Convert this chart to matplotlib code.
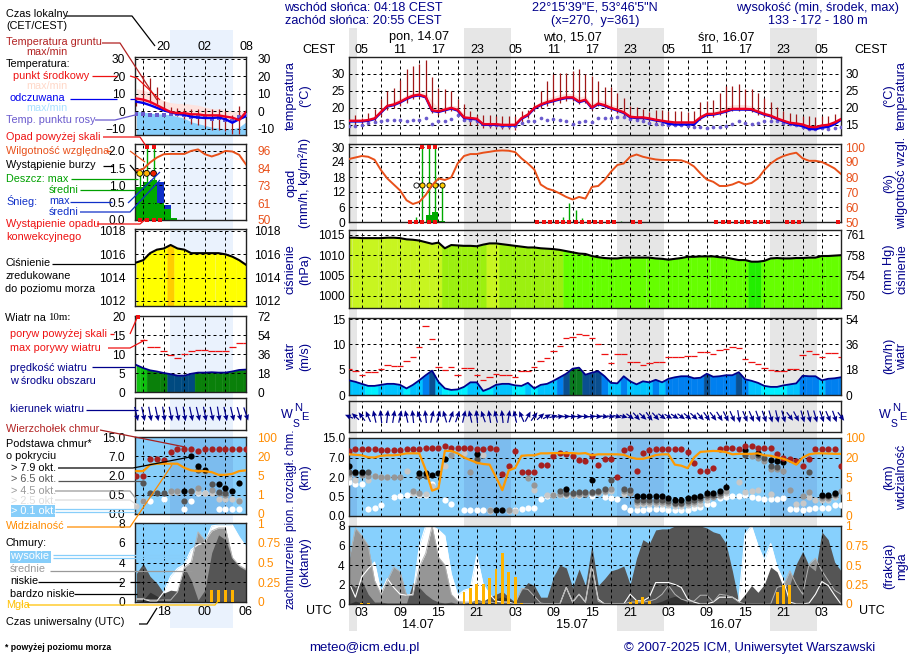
import numpy as np
import matplotlib
matplotlib.use('Agg')
import matplotlib.pyplot as plt

plt.rcParams['font.family'] = ['Liberation Sans', 'DejaVu Sans']
W, H = 910, 660
navy = '#00008b'
orange = '#ff8c00'
nan = np.nan

# hourly series, main meteogram (hours since 14.07 00 UTC)
hours = np.arange(1, 79)
temp_mid = [16.2,16.2,16.2,16.4,16.9,18.8,20.6,21.0,21.8,22.8,
            23.6,23.9,23.3,19.3,19.0,19.5,20.0,19.4,17.2,17.0,
            16.8,15.2,15.2,15.2,15.0,15.0,15.0,17.0,18.0,20.0,
            21.0,21.7,22.2,22.7,23.1,23.1,21.9,22.4,20.1,21.3,
            20.8,20.0,19.4,18.7,17.4,17.2,17.2,16.9,16.5,16.2,
            15.9,15.7,15.7,15.7,15.7,17.2,18.2,18.2,18.6,19.1,
            19.7,19.7,19.7,19.6,18.9,18.2,17.7,16.9,16.2,15.6,
            15.4,15.1,14.4,14.3,14.8,15.0,15.7,16.7]
temp_top = [16.6,16.6,16.7,17,17.6,18.8,20.8,22,22.8,23.8,
            24.5,24.8,24.5,22,20,20.3,20.8,20.6,18.2,17.6,
            17.4,16,15.8,15.8,15.6,15.6,15.6,17.6,18.8,20.6,
            21.8,22.8,23.4,24,24.2,24.2,23.2,23.6,21.2,22.4,
            22,21,20.6,19.8,18.2,17.8,17.8,17.6,17.2,16.8,
            16.4,16.2,16.2,16.2,16.2,17.8,18.8,19,19.8,20.4,
            20.9,21,21,20.6,19.8,18.8,18.3,17.6,16.8,16.2,
            15.9,15.7,15,14.9,15.4,15.6,16.3,17.3]
temp_felt = [16,16,16,16.2,16.7,18.6,20.4,20.8,21.6,22.6,
             23.4,23.7,23.1,19.1,18.8,19.3,19.8,19.2,17,16.8,
             16.6,15,15,15,14.8,14.8,14.8,16.8,17.8,19.8,
             20.8,21.5,22,22.5,22.9,22.9,21.7,22.2,19.9,21.1,
             20.6,19.8,19.2,18.5,17.2,17,17,16.7,16.3,16,
             15.3,15.1,15.1,15.1,15.1,16.9,17.9,18,18.4,18.9,
             19.5,19.5,19.5,19.4,18.7,18,17.5,16.7,16,15.3,
             15,14.6,13.8,13.7,14.2,14.4,15.2,16.5]
ground_max = [16.8,17.8,17.0,18.4,19.8,22.5,25,26,28.3,31.5,
              32.3,33,34,29,26,25.5,25,22.5,21,19,
              18,18,18,17.7,17.5,17.7,17.5,19,19.3,21,
              25,28,30,30.3,30.3,31,31.4,30,29.3,27.8,
              26.2,26.2,24.3,23,20.5,20.2,19.8,18.7,19.3,19.3,
              19.2,19,19,18.7,19.2,21.7,22,22.3,24.3,26.5,
              26.5,27,25.7,25.5,24.3,23,21.7,20.2,19,18.5,
              18.3,17.5,17.5,17.3,17.5,17.5,18.3,18.5]
ground_min = [14.5,14.8,15,15.5,16,17.5,19.5,20,20.5,21.5,
              22.5,23,22.5,18.5,18,18.5,19,18.5,16.5,15,
              15,14,14,14,13.8,13.8,13.5,15.5,17,19,
              20,20.5,21,21.5,22,22,21,21.5,19.5,20.5,
              20,19,18.5,17.5,16.5,16.5,16.3,16,15.5,15.3,
              15,14.8,14.7,14.7,14.8,16.3,17.3,17.4,17.8,18.3,
              19,19,19,18.8,18,17.3,16.8,16,15.5,15,
              14.8,14.2,13.6,13.4,14,14.2,15,16]
dew = [14.8,14.8,15,15.5,15.8,16.1,16.5,16.5,16.4,16.2,
       16.4,16.5,16.9,15.2,16.2,16.2,16.8,17.8,16.5,16.3,
       16,15.2,15,15,14.8,14.8,14.8,15.5,16,16,
       17,16.5,16.8,16.5,16.1,15.2,15.7,16,15.8,17,
       17,17,17.2,17.3,16.6,16.3,16.2,15.6,15.3,15.3,
       15,14.9,14.9,14.8,14.5,14.3,14.2,14.3,14.3,14.8,
       15.2,16,15.4,15.3,15.4,16,16,16,15.5,15.2,
       15,14.5,13.8,13.7,14.1,13.9,14,14.3]
rh = [92,93,94,93.5,91.5,84.6,79,75,71,64.5,
      62,63.4,68,74.5,79,78,79.7,89,94,95.3,
      95.3,96.2,96.8,97.5,97.7,97.5,96.6,92.4,89,85,
      75,72.3,71,69,66.7,65,66.7,65.6,73.4,74,
      78,83.5,88,89,93.5,95,93.5,92.5,91.7,91.3,
      91.3,91.3,91.1,89.7,87,82.4,78.3,76.8,74,74,
      75,76.8,75,76,79,84.6,89,92,94,95.3,
      96.2,92.4,90.8,90.8,90,88,85.7,82]
rain_hours = [13, 14, 15]
rain_mean = [3, 3.9, 0.5]
rain_max_hours = [11.5, 12.5, 13.5, 14.5, 15.5, 34.5, 35.5, 36.5, 37.5, 43.5]
rain_max = [2, 30, 30, 30, 15, 2, 7.5, 5, 1.7, 0.6]
over_scale = [12.5, 13.5, 14.5]
storm_open = [11.5]
storm_hours = [12.5, 13.5, 14.5, 15.5]
conv_hours = [10.5,11.5,12.5,13.5,14.5,
              30.5,31.5,32.5,33.5,34.5,35.5,36.5,37.5,38.5,39.5,40.5,41.5,42.5,
              45.5,46.5,58.5,59.5,60.5,61.5,62.5,63.5,64.5,65.5,66.5,
              69.5,70.5,71.5,77.5]
pressure = [1014.3,1014.3,1014.2,1014.2,1014.2,1014.2,1014.3,1014.3,1014.2,1013.9,
            1013.8,1013.6,1013.2,1012.8,1013.1,1011.7,1012.5,1012.4,1012.3,1012.3,
            1012.2,1012.6,1012.9,1012.9,1012.7,1012.5,1012.3,1012.1,1011.9,1011.9,
            1011.7,1011.6,1011.5,1011.3,1011,1010.7,1010.4,1010.3,1009.8,1009.5,
            1009.3,1009.2,1009.2,1009.4,1009.4,1009.4,1009.4,1009.4,1009.2,1009.1,
            1008.9,1009.1,1009.3,1009.6,1009.6,1009.7,1009.7,1009.7,1009.5,1009.4,
            1009.1,1008.8,1008.8,1008.4,1008.4,1008.6,1009.2,1009.3,1009.2,1009.2,
            1009.3,1009.3,1009.4,1009.4,1009.8,1009.8,1009.9,1010]
wind = [2.9,2.6,2.2,1.8,1.8,2,2.2,2.2,2,1.3,
        2,2.9,3.9,4.8,2.6,1.3,1,1.1,1.6,2.5,
        2.5,.8,1.3,2,2.2,2.2,1.9,1.8,2.4,1.3,
        2,2.2,2.8,3.5,4.2,5.2,5.4,4,4.4,4.7,
        3.7,2.4,2.3,3.7,2.7,2.1,2.7,2.5,3,2.5,
        3.2,3.5,3.7,3.7,3.3,3.4,4.2,3.6,3.7,3.9,
        3.9,4.5,3.1,2.8,2.4,1.8,1.6,1.6,1.9,2.1,
        2.3,3.8,3.7,3.7,2.9,3.2,3.3,3.5]
gust = [5.2,4.8,3.9,4.6,4.6,5.2,6,5.8,5.8,6.8,
        7.6,9.5,13.7,11.1,5.6,5,5.6,4,5.4,5.4,
        4,2.9,3.5,4.2,3.9,3.9,3.5,4.8,4.8,5.6,
        6.8,7.4,8.6,9.7,11.3,11.5,12.1,11.9,11.3,10.1,
        8,6.4,8,8,6.6,6.6,6,6.4,6.6,6.6,
        7.6,7.6,7.6,7.7,7.7,8.4,8.4,8,8.8,9,
        9.5,9.2,7.2,6.6,6.2,5.4,5,4.8,4.8,5.2,
        5.2,7.8,8.6,8,7.6,8.2,8.2,7.6]
wind_dir = [285,300,310,325,340,350,10,15,20,340,
            350,330,350,20,25,335,30,30,20,340,
            350,330,345,340,350,15,340,325,40,50,
            60,70,80,85,88,90,90,92,88,92,
            95,95,100,100,115,125,120,130,125,115,
            110,112,115,118,120,125,130,130,135,140,
            145,165,145,145,150,150,155,160,155,130,
            140,155,158,155,150,145,150,130]
vis = [33,31,29,21,20,27,29,29,32,37,
       37,37,10.5,2.2,2.7,47,47,37,20,18,
       16,15,14.5,5,2.3,10,12,27,29,29,
       37,37,38,38,38,38,36,38,29,33,
       33,33,33,31,21,19,19,21,30,33,
       33,14.5,13.7,11.8,20,43,45,47,46,42,
       33,35,35,35,37,29,27,20,19,17,
       14.5,20,33,37,37,36,35,35]
cloud_top = [9.7,10.3,10.3,10.3,10.3,9.9,9.9,9.9,9.9,10.3,
             10.3,10.6,11,11,11,11.7,11,11,11,11,
             10.6,10.3,11,10.6,2.7,4.7,9.7,3.3,3.3,3.3,
             5,5,7.7,8.7,8.3,7.7,6.4,6,7.5,5.2,
             6.5,6.5,2,10,11,3.6,9,10,10.3,10.3,
             10.3,10.3,10.3,9.3,5.6,3.6,3.6,4.3,10.6,11,
             11,10.3,11.7,11.7,11,11,11,8.3,7,6.7,
             6,4.7,6.5,10.6,10.3,10.3,10.3,4.9]
b79_h = [1,2,3,12,13,14,15,16,21,24,25,35,39,46,47,48,49,50,51,52,
         53,54,55,56,57,58,59,60,63,65,67,68,69,75,76,77]
b79_km = [4.7,3.4,3.4,2.9,2.9,2.5,2.9,6.5,8.3,.16,.16,1.1,1.8,.52,.52,.52,.52,.52,.45,.4,
          .4,.45,.5,.55,.75,.75,.92,1.2,10,9,6.3,6,5.8,.6,.6,.8]
b65_h = [1,2,3,4,12,13,21,34,35,36,37,38,39,40,41,42,44,45,46,47,
         48,49,50,51,52,53,54,55,56,57,58,59,63,65,66,67,68,73,75,76,77]
b65_km = [3.2,3.0,3.0,3.4,2.3,2.3,6.7,.95,.8,.75,.87,.87,.87,.95,1.1,1.8,1.1,1,.42,.42,
          .42,.42,.42,.38,.33,.33,.38,.42,.45,.6,.6,.75,8,8,7,4.8,4.6,3.3,.52,.52,.7]
b45_h = [1,3,4,5,6,7,8,9,11,12,17,20,21,23,26,29,30,33,34,35,
         36,37,38,39,40,41,42,44,45,46,47,48,49,50,51,52,53,54,55,56,
         57,58,59,60,64,65,66,67,68,69,70,72,73,75,76,77,78]
b45_km = [2.8,2.4,2.2,2.2,2.1,2.1,2.1,2.1,.95,.8,8,3.4,6,.15,.15,1.9,1.4,.65,.7,.72,
          .7,.72,.72,.75,.85,.95,1.1,.95,.75,.36,.36,.36,.36,.36,.33,.3,.3,.33,.36,.4,
          .5,.5,.6,.9,7.5,7,6,4,4,3.5,1,.55,.85,.45,.45,.6,.95]
b25_h = [1,2,4,5,6,7,10,11,12,13,14,16,17,19,21,22,23,26,27,30,
         32,33,34,35,36,37,38,39,40,41,42,44,46,47,48,49,50,51,52,53,
         54,55,56,57,59,60,62,63,64,65,67,71,72,73,74,75,76,77]
b25_km = [2,1.8,1.75,2.2,2.1,2.1,3.5,.8,.72,.72,1.3,4.7,8,9,6.7,8,.14,.14,.14,1,
          .65,.62,.65,.65,.65,.65,.8,.8,.8,.82,.95,.7,.28,.3,.3,.3,.3,.27,.25,.25,
          .27,.3,.3,.4,.55,.75,1.6,.85,.95,1,.7,.32,.33,.5,.4,.4,.4,.5]
b01_h = [1,2,3,4,5,6,8,9,10,11,12,13,14,16,17,19,20,21,22,23,
         27,28,29,30,31,32,33,35,37,39,41,42,43,44,45,46,47,48,49,50,
         51,52,53,54,55,56,57,58,59,60,61,62,63,64,65,66,67,68,69,70,
         71,72,73,74,75,76,77,78]
b01_km = [1.6,1.5,1.5,.17,.21,.28,.5,.57,.65,.75,.62,.62,1.5,.4,.3,.15,.15,.15,.15,.15,
          .15,.17,.21,.21,.43,.55,.6,.6,.6,.55,.5,.45,.44,.24,.15,.15,.15,.17,.17,.17,
          .15,.15,.15,.15,.2,.24,.3,.3,.45,.5,.52,.55,.6,.5,.45,.43,.43,.44,.45,.17,
          .17,.15,.17,.2,.2,.2,.28,.28]
cl_high = [2.2,.7,2.8,3.6,4.3,1.2,2.6,1.7,1,.9,
           1,5.9,8,8,7.6,7,3.1,.9,1.4,1.6,
           5,2,1,.3,.2,.2,0,0,0,0,
           0,0,0,0,1.7,.2,1,.2,4,.5,
           0,0,0,0,1,.35,.3,.7,2.2,2.2,
           2.2,2,1.7,.5,.2,0,0,.2,.7,.7,
           .7,.3,7.2,8,6,4.5,6.2,3.8,2.4,.2,
           0,0,.1,1,2.3,1.9,.9,0]
cl_mid = [4.5,7.8,7,6,2.4,1,2.4,3.8,3.3,.9,
          .9,3.8,5.2,8,4.8,4,1,.3,.2,.2,
          .2,.2,.2,.1,.1,.1,0,1.6,1.5,.8,
          .1,0,0,0,1.7,.2,1,.2,4,.3,
          0,0,0,0,.2,.2,.2,.3,.5,1,
          1.9,1,.5,.3,.3,.9,.9,.2,1,.9,
          .7,.2,0,0,0,0,0,1.7,1.9,3.4,
          2,1,4.1,4.7,3.4,2.4,1.4,1]
cl_low = [2.2,1.7,2.4,1,.2,.2,.1,.1,.1,.1,
          2.2,1.7,1,.5,.2,.1,.2,0,0,.2,
          .5,.3,.7,1,1.3,.7,.2,1.4,2.2,1.9,
          .7,.7,2.8,4,3.7,1.7,3.6,1.9,6,1.9,
          2.6,3.4,3.6,3.9,2,4.7,6.6,6.2,7.6,7.7,
          7.7,8,8,8,8,8,7.8,7.4,7.2,6.2,
          3.4,.2,1,1.9,1.2,2,3.8,3.3,1.7,2,
          4.1,5.4,3.9,3.4,7.4,6.6,4.3,3.4]
cl_vlow = [0,.3,.1,0,0,0,0,0,0,0,
           0,0,0,0,0,0,0,0,0,0,
           0,0,.1,.5,.8,.5,.1,0,0,0,
           0,0,0,0,0,0,0,0,0,0,
           0,0,0,0,0,0,0,0,.1,.3,
           .6,.8,.6,.1,0,0,0,0,0,0,
           0,0,0,0,0,0,0,0,0,0,
           0,.1,0,0,0,0,0,0]
fog_hours = [3,4,19,20,21,22,23,24,25,26,27,28,45,46,47,48,68,69,70]
fog_frac = [.01,.01,.15,.2,.26,.26,.33,.45,.66,.41,.34,.01,.02,.05,.09,.04,.15,.24,.24]

night_start = [-5.1, 18.92, 42.92, 66.92]
night_end = [2.3, 26.3, 50.3, 74.3]

# small panel on the left, the legend part
lh = np.arange(14, 31)
l_mid = [7.3,6.7,5.4,3.5,1.5,-.4,-1,-1,-1.7,-1.7,-2.3,-2.3,-2.3,-3,-3.6,-5,-.4]
l_felt = [5.5,4.8,3.5,2,.5,-.5,-1.5,-2,-3,-3.5,-3.8,-3.8,-3.5,-4.5,-6.5,-4.5,-2.8]
l_top = [13,12,11,8,6,5,4.5,4.5,4,3.5,2.5,1.5,1.5,1,0,0,0]
l_cold = [0,-.5,-1,-1.5,-1.5,-2,-3,-4,-6,-7,-8,-9,-9.5,-10,-10,-9,-6]
l_gmax = [7,21,19,14,6,2.5,2,1.5,1.5,1.5,1.5,1.5,1.5,0,-2,3,-1]
l_gmin = [3,5,5,4,1,-1.5,-2.5,-4.5,-7,-8,-9,-10.5,-10.5,-11,-13,-13,-10]
l_dew = [-1.3,-1.3,-2.3,-2.3,-2.3,-1.3,-1.3,-2.3,-3.3,-3.3,-3.3,-4.2,-3.7,-5.2,-5.6,-3.3,-2.3]
l_rh = [82.9,84,88.3,91.6,93.8,94,94,94,96,97,93.8,92.3,93.8,96,95.6,93.4,87]
l_rain_h = [14, 15, 16, 17, 18, 19]
l_rain = [.95, 1.1, 1.15, .5, .33, .05]
l_snow_h = [17, 18]
l_snow = [1.1, .43]
l_max_h = [14.5, 15.5, 16.5]
l_max = [1.35, 2.1, 2.1]
l_storm_col = ['#ffe000', '#ffb000', '#ee2000']
l_conv = [14.5, 15.5, 16.5, 17.5]
l_press = [1015.3,1015.5,1016.1,1016.4,1016.5,1016.8,1016.5,1016.4,1016.1,1016.1,1016.1,1016.1,1016.1,1016,1015.8,1015.5,1015.1]
l_wind = [7.1,6.3,5.7,5.4,5,4.7,4.3,4.3,4.8,5.1,5.1,5.2,5.1,5.1,5.4,5.8,5.9]
l_gust = [nan,13.7,11.8,11.8,10.7,9.7,8.9,10,10.7,11.1,11.1,10.9,10.9,10.9,11.8,12.8,13]
l_dir = [158,160,162,160,165,162,160,165,160,158,162,160,165,160,158,155,150]
l_ctop = [2,2,6.4,6.4,6,8.9,10,10,10,9,10,10,10,10,10,10,10]
l79_h = [21,22,23,24,26,27,28,29]
l79_km = [.8,7,4.5,3.5,1.3,1,.8,1.4]
l65_h = [15,16,17,18,21,22,23,25,26,27]
l65_km = [1.4,.6,.6,.6,.35,.8,3.4,1.3,.75,.6]
l45_h = [15,19,20,22,23,24,25,26,27,29]
l45_km = [.35,.8,.8,.8,1,3.2,.9,.6,.5,.35]
l25_h = [14,19,20,23,24,25,26,27,28,29]
l25_km = [.2,.75,.7,.7,.65,.65,.38,.38,.38,.37]
l01_h = [15,16,18,21,22,23,24,26,27,28,29]
l01_km = [.35,.35,.4,.12,.35,.65,.6,.12,.12,.12,.12]
l_vis = [8.4,8.4,13.4,14.2,14.2,14.2,14.2,11,9,8.4,8.4,7.6,5.5,5.5,6.3,8.4,9]
l_high = [.3,.3,.1,.1,1,2.6,3.4,3.8,5.3,5.8,6,7.7,7.8,7.8,7.8,6.6,5.6]
l_midc = [.3,.3,.2,.2,.2,.2,1,3.5,4,7.1,6.2,7.2,7.5,7.5,4.5,3.7,3.3]
l_lowc = [2.9,3.9,2.6,1.9,.9,1.2,1.1,3.5,2.2,.2,1.2,5,6.8,6.3,4.4,3.6,3.2]
l_vlow = [0,.2,1,.6,.1,0,0,0,0,0,0,0,0,0,0,0,0]
l_fog_h = [25, 26, 27, 28]
l_fog = [.15, .15, .15, .15]

km_levels = [0, .5, 2, 7, 15]
vis_levels = [0, 1, 5, 20, 100]
pos_levels = [0, 1, 2, 3, 4]

tick_size = 8.6


def panel(x0, y0, x1, y1):
    ax = fig.add_axes([x0 / W, 1 - y1 / H, (x1 - x0) / W, (y1 - y0) / H])
    ax.patch.set_alpha(0)
    ax.set_axisbelow('line')
    for s in ax.spines.values():
        s.set_color('#222222')
        s.set_linewidth(1.0)
    return ax


def xsetup(ax, left):
    if left:
        ax.set_xlim(13.8, 30)
        ax.set_xticks(np.arange(15, 31, 3))
    else:
        ax.set_xlim(1, 78)
        ax.set_xticks(np.arange(3, 79, 3))
    ax.set_xticklabels([])
    ax.tick_params(length=0, labelsize=tick_size, pad=7 if left else 3)
    ax.tick_params(axis='x', labelsize=9)
    ax.grid(True, color='k', lw=0.72, ls=(0, (3, 3)))


def yright(ax, ticks, labels, color='k', pad=3, scale=None):
    tw = ax.twinx()
    tw.patch.set_alpha(0)
    if scale is not None:
        tw.set_yscale('function', functions=scale)
    tw.set_ylim(ax.get_ylim())
    tw.set_yticks(ticks, labels=labels, color=color)
    tw.tick_params(length=0, labelsize=tick_size, pad=pad)
    for s in tw.spines.values():
        s.set_visible(False)
    return tw


def cells(ax, h, vals, colors, base):
    # one coloured column per hour, the top follows the line
    h = np.asarray(h, dtype=float)
    for i in range(len(h)):
        xs = np.linspace(h[i] - .5, h[i] + .5, 3)
        xs = np.clip(xs, h[0], h[-1])
        ax.fill_between(xs, base, np.interp(xs, h, vals), color=colors[i], lw=0.3, zorder=1)


def press_color(p):
    if p > 1012.75:
        return '#c8f520'
    if p > 1011.05:
        return '#9cf00f'
    if p > 1008.5:
        return '#66ff00'
    return '#22ee00'


def wind_color(v):
    if v >= 6:
        return '#10c010'
    if v >= 5.05:
        return '#0a7a20'
    if v >= 4:
        return '#0a4f90'
    if v >= 3:
        return '#0080f0'
    if v >= 2:
        return '#00c3ff'
    return '#00f0ff'


def km_fw(v):
    return np.interp(v, km_levels, pos_levels)


def km_inv(v):
    return np.interp(v, pos_levels, km_levels)


def vis_fw(v):
    return np.interp(v, vis_levels, pos_levels)


def vis_inv(v):
    return np.interp(v, pos_levels, vis_levels)


def draw_temp(ax, h, top, low, mid, felt, gmax, gmin, dewp, left):
    ax.fill_between(h, low, top, color='#fde3df', lw=0, zorder=1)
    ax.vlines(h, gmin, gmax, color='#a01818', lw=0.9, zorder=2)
    ax.scatter(h, dewp, s=7, marker='s' if left else 'o', color='#6a5acd', lw=0, zorder=3)
    ax.plot(h, felt, color='#0000ee', lw=1.7, zorder=3)
    ax.plot(h, mid, color='#ee0022', lw=1.7, zorder=4)


def draw_cover(ax, h, high, mid, low, vlow):
    ax.set_facecolor('#87d0fd')
    ax.patch.set_alpha(1)
    ax.fill_between(h, 0, high, color='white', lw=0, zorder=1)
    ax.fill_between(h, 0, mid, color='#969696', lw=0, zorder=1.1)
    ax.fill_between(h, 0, low, color='#555555', lw=0, zorder=1.2)
    ax.fill_between(h, 0, vlow, color='#333333', lw=0, zorder=1.3)
    ax.plot(h, high, color='white', lw=0.8, zorder=1.4)
    ax.plot(h, mid, color='#b4b4b4', lw=0.7, zorder=1.4)


def draw_dots(ax, series, tops_h, tops):
    size = 20
    for hs, km, col in series:
        ax.scatter(hs, km, s=size, color=col, lw=0, zorder=3)
    ax.scatter(tops_h, tops, s=size, color='#a52020', lw=0, zorder=3)


def arrows(ax, h, dirs, vscale):
    th = np.radians(dirs)
    ax.quiver(h, np.zeros(len(h)), 1.3 * np.sin(th), vscale * np.cos(th), angles='xy', scale_units='xy', scale=1,
              pivot='mid', color='#00008b', units='dots', width=1.2, headwidth=4.5, headlength=5, headaxislength=4.5,
              zorder=3, clip_on=False)


fig = plt.figure(figsize=(W / 100, H / 100), dpi=100)

# day/night bands behind the panels
bg = fig.add_axes([349 / W, 1 - 631 / H, 492 / W, 603 / H], zorder=-2)
bg.set_xlim(1, 78)
bg.axis('off')
for a, b in zip(night_start, night_end):
    bg.axvspan(a, b, color='#e6e6e6', lw=0)
bgl = fig.add_axes([135 / W, 1 - 628 / H, 111 / W, 598 / H], zorder=-2)
bgl.set_xlim(13.8, 30)
bgl.axis('off')
bgl.axvspan(18.9, 28.1, color='#eaf2fd', lw=0)

# ---- main panels
ax = panel(349, 57, 841, 135)
draw_temp(ax, hours, temp_top, temp_felt, temp_mid, temp_felt, ground_max, ground_min, dew, False)
ax.set_ylim(12, 35)
ax.set_yticks([15, 20, 25, 30])
xsetup(ax, False)
ax.set_xticklabels(['%02d' % ((h + 2) % 24) if h % 6 == 3 else '' for h in np.arange(3, 79, 3)])
ax.tick_params(axis='x', labeltop=True, labelbottom=False, pad=1)
yright(ax, [15, 20, 25, 30], ['15', '20', '25', '30'])

ax = panel(349, 144, 841, 222)
ax.set_ylim(0, 31.2)
ax.set_yticks([0, 6, 12, 18, 24, 30])
xsetup(ax, False)
ax.bar(rain_hours, rain_mean, width=1, align='edge', color='#00aa00', zorder=1)
ax.vlines(rain_max_hours, 0, rain_max, color='#00aa00', lw=1.0, zorder=2)
ax.scatter(over_scale, [30] * len(over_scale), s=9, marker='s', color='#ee1111', lw=0, zorder=4)
ax.scatter(storm_open, [15], s=14, color='white', edgecolor='k', lw=0.6, zorder=4)
ax.scatter(storm_hours, [15] * len(storm_hours), s=14, color='#ffcc00', edgecolor='k', lw=0.6, zorder=4)
ax.scatter(conv_hours, [0] * len(conv_hours), s=8, marker='s', color='#ee1111', lw=0, zorder=4, clip_on=False)
tw = yright(ax, [60, 70, 80, 90, 100, 50], ['60', '70', '80', '90', '100', '50'], color='#e8501a')
tw.set_ylim(50, 102)
tw.plot(hours, rh, color='#e8501a', lw=1.4)

ax = panel(349, 230, 841, 308)
cells(ax, hours, pressure, [press_color(p) for p in pressure], 990)
ax.plot(hours, pressure, color='k', lw=1.5, zorder=3)
ax.set_ylim(997, 1016.2)
ax.set_yticks([1000, 1005, 1010, 1015])
xsetup(ax, False)
yright(ax, [1000, 1005, 1010, 1015], ['750', '754', '758', '761'])

ax = panel(349, 318, 841, 395)
cells(ax, hours, wind, [wind_color(v) for v in wind], 0)
ax.plot(hours, wind, color='#00008b', lw=1.3, zorder=3)
ax.hlines(gust, hours - .5, hours + .5, color='#ee1111', lw=0.9, zorder=3)
ax.set_ylim(0, 15.2)
ax.set_yticks([0, 5, 10, 15])
xsetup(ax, False)
yright(ax, [0, 5, 10, 15], ['0', '18', '36', '54'])

ax = panel(349, 401, 841, 432)
ax.set_ylim(-1, 1)
ax.set_yticks([])
xsetup(ax, False)
arrows(ax, hours, wind_dir, 0.85)

ax = panel(349, 438, 841, 516)
ax.set_facecolor('#87cefa')
ax.patch.set_alpha(1)
ax.set_yscale('function', functions=(km_fw, km_inv))
ax.set_ylim(0, 15)
ax.set_yticks(km_levels, labels=['0.0', '0.5', '2.0', '7.0', '15.0'])
xsetup(ax, False)
for a, b in zip(night_start, night_end):
    ax.axvspan(a, b, color='#7cbcee', lw=0, zorder=0.5)
ax.set_xlim(1, 78)
draw_dots(ax, [(b01_h, b01_km, 'white'), (b25_h, b25_km, '#c8c8c8'), (b45_h, b45_km, '#969696'),
               (b65_h, b65_km, '#555555'), (b79_h, b79_km, 'black')], hours, cloud_top)
tw = yright(ax, vis_levels, ['0', '1', '5', '20', '100'], color=orange, scale=(vis_fw, vis_inv))
tw.set_ylim(0, 100)
tw.plot(hours, vis, color='#ff9900', lw=1.6, zorder=5)

ax = panel(349, 526, 841, 604)
draw_cover(ax, hours, cl_high, cl_mid, cl_low, cl_vlow)
ax.set_ylim(0, 8)
ax.set_yticks([0, 2, 4, 6, 8])
xsetup(ax, False)
ax.set_xticklabels(['%02d' % (h % 24) if h % 6 == 3 else '' for h in np.arange(3, 79, 3)])
ax.tick_params(axis='x', pad=2)
tw = yright(ax, [0, .25, .5, .75, 1], ['0', '0.25', '0.5', '0.75', '1'], color=orange)
tw.set_ylim(0, 1)
tw.bar(fog_hours, fog_frac, width=.45, color='#ffb300', zorder=4)

# ---- small panels, left side
ax = panel(135, 57, 246, 135)
ax.fill_between(lh, -14, l_cold, color='#87cefa', lw=0, zorder=0.6)
draw_temp(ax, lh, l_top, l_felt, l_mid, l_felt, l_gmax, l_gmin, l_dew, True)
ax.set_ylim(-13.5, 31)
ax.set_yticks([-10, 0, 10, 20, 30])
xsetup(ax, True)
ax.set_xticklabels(['', '20', '', '02', '', '08'])
ax.tick_params(axis='x', labeltop=True, labelbottom=False, pad=3)
yright(ax, [-10, 0, 10, 20, 30], ['-10', '0', '10', '20', '30'], pad=8)

ax = panel(135, 144, 246, 220)
ax.set_ylim(0, 2.2)
ax.set_yticks([0, .5, 1, 1.5, 2], labels=['0.0', '0.5', '1.0', '1.5', '2.0'])
xsetup(ax, True)
ax.bar(l_snow_h, l_snow, width=1, align='edge', color='#1030c8', zorder=1)
ax.bar(l_rain_h, l_rain, width=1, align='edge', color='#00aa00', zorder=1.1)
ax.vlines(l_max_h, 0, l_max, color='#00aa00', lw=1.0, zorder=2)
ax.scatter(l_max_h[1:], l_max[1:], s=9, marker='s', color='#ee1111', lw=0, zorder=4)
ax.scatter(l_max_h, [1.35] * 3, s=18, color=l_storm_col, edgecolor='k', lw=0.6, zorder=4)
ax.scatter(l_conv, [0] * 4, s=5, marker='s', color='#ee1111', lw=0, zorder=4, clip_on=False)
tw = yright(ax, [50, 61, 73, 84, 96], ['50', '61', '73', '84', '96'], color='#e8501a', pad=8)
tw.set_ylim(50, 100.6)
tw.plot(lh, l_rh, color='#e8501a', lw=1.4)

ax = panel(135, 229, 246, 306)
cells(ax, lh, l_press, ['#ffcc00' if p > 1016.7 else '#ffff00' for p in l_press], 1010)
ax.plot(lh, l_press, color='k', lw=1.5, zorder=3)
ax.set_ylim(1011.57, 1018.17)
ax.set_yticks([1012, 1014, 1016, 1018])
xsetup(ax, True)
yright(ax, [1012, 1014, 1016, 1018], ['1012', '1014', '1016', '1018'], pad=6)

ax = panel(135, 316, 246, 392)
lcols = ['#10c010' if v >= 6 else '#0a800a' if v >= 4.95 else '#004a80' for v in l_wind]
cells(ax, lh, l_wind, lcols, 0)
ax.plot(lh, l_wind, color='#00008b', lw=1.3, zorder=3)
ax.hlines(l_gust, lh - .5, lh + .5, color='#ee1111', lw=0.9, zorder=3)
ax.scatter([14.3], [19.8], s=8, marker='s', color='#ee1111', lw=0, zorder=4, clip_on=False)
ax.set_ylim(0, 20)
ax.set_yticks([0, 5, 10, 15, 20])
xsetup(ax, True)
yright(ax, [0, 5, 10, 15, 20], ['0', '18', '36', '54', '72'], pad=8)

ax = panel(135, 398, 246, 430)
ax.set_ylim(-1, 1)
ax.set_yticks([])
xsetup(ax, True)
arrows(ax, lh, l_dir, 0.95)

ax = panel(135, 437, 246, 514)
ax.set_facecolor('#87cefa')
ax.patch.set_alpha(1)
ax.set_yscale('function', functions=(km_fw, km_inv))
ax.set_ylim(0, 15)
ax.set_yticks(km_levels, labels=['0.0', '0.5', '2.0', '7.0', '15.0'])
xsetup(ax, True)
ax.axvspan(18.9, 28.1, color='#7cbcee', lw=0, zorder=0.5)
draw_dots(ax, [(l01_h, l01_km, 'white'), (l25_h, l25_km, '#c8c8c8'), (l45_h, l45_km, '#969696'),
               (l65_h, l65_km, '#555555'), (l79_h, l79_km, 'black')], lh, l_ctop)
tw = yright(ax, vis_levels, ['0', '1', '5', '20', '100'], color=orange, pad=8, scale=(vis_fw, vis_inv))
tw.set_ylim(0, 100)
tw.plot(lh, l_vis, color='#ff9900', lw=1.6, zorder=5)

ax = panel(135, 523, 246, 602)
draw_cover(ax, lh, l_high, l_midc, l_lowc, l_vlow)
ax.set_ylim(0, 8)
ax.set_yticks([0, 2, 4, 6, 8])
xsetup(ax, True)
ax.set_xticklabels(['', '18', '', '00', '', '06'])
ax.tick_params(axis='x', pad=3)
tw = yright(ax, [0, .25, .5, .75, 1], ['0', '0.25', '0.5', '0.75', '1'], color=orange, pad=8)
tw.set_ylim(0, 1)
tw.bar(l_fog_h, l_fog, width=.5, color='#ffb300', zorder=4)

# ---- texts and legend leader lines in picture pixels
ov = fig.add_axes([0, 0, 1, 1], zorder=20)
ov.set_xlim(0, W)
ov.set_ylim(H, 0)
ov.axis('off')
ov.patch.set_alpha(0)


def tx(x, y, s, color='k', ha='left', size=7.8, **kw):
    ov.text(x, y, s, color=color, ha=ha, va='center', fontsize=size, **kw)


def vt(x, y, s, color=navy, size=9.2):
    ov.text(x, y, s, color=color, ha='center', va='center', rotation=90, fontsize=size)


def ln(xs, ys, color='k', lw=0.9):
    ov.plot(xs, ys, color=color, lw=lw, solid_capstyle='butt')


size_head = 9.05
tx(363, 8, 'wschód słońca: 04:18 CEST', navy, 'center', size_head)
tx(363, 21, 'zachód słońca: 20:55 CEST', navy, 'center', size_head)
tx(595, 8, '22°15\'39"E, 53°46\'5"N', navy, 'center', size_head)
tx(595, 21, '(x=270,  y=361)', navy, 'center', size_head)
tx(818, 8, 'wysokość (min, środek, max)', navy, 'center', size_head)
tx(818, 21, '133 - 172 - 180 m', navy, 'center', size_head)
for x, s in [(419, 'pon, 14.07'), (572, 'wto, 15.07'), (726, 'śro, 16.07')]:
    tx(x, 37, s, 'k', 'center', 9.2)
for x, s in [(418, '14.07'), (572, '15.07'), (726, '16.07')]:
    tx(x, 625, s, 'k', 'center', 9.2)
tx(319, 50, 'CEST', 'k', 'center', 9)
tx(871, 50, 'CEST', 'k', 'center', 9)
tx(319, 611, 'UTC', 'k', 'center', 9)
tx(872, 611, 'UTC', 'k', 'center', 9)
tx(364, 648, 'meteo@icm.edu.pl', navy, 'center', 9.5)
tx(750, 648, '© 2007-2025 ICM, Uniwersytet Warszawski', navy, 'center', 9.4)
tx(5, 648, '* powyżej poziomu morza', 'k', 'left', 6.2, fontweight='bold')

for y, a, b in [(96, 'temperatura', '(°C)'), (183, 'opad', '(mm/h, kg/m²/h)'), (269, 'ciśnienie', '(hPa)'),
                (356, 'wiatr', '(m/s)')]:
    vt(291, y, a)
    vt(305, y, b)
vt(291, 480, 'pion. rozciągł. chm.', size=8.5)
vt(305, 477, '(km)')
vt(291, 572, 'zachmurzenie', size=8.6)
vt(305, 562, '(oktanty)')
for y, a, b in [(96, 'temperatura', '(°C)'), (183, 'wilgotność wzgl.', '(%)'), (269, 'ciśnienie', '(mm Hg)'),
                (356, 'wiatr', '(km/h)'), (477, 'widzialność', '(km)'), (566, 'mgła', '(frakcja)')]:
    vt(902, y, a)
    vt(889, y, b)
for x0 in [287, 885]:
    tx(x0, 415, 'W', navy, 'center', 9)
    tx(x0 + 11, 408, 'N', navy, 'center', 8)
    tx(x0 + 18, 417, 'E', navy, 'center', 8)
    tx(x0 + 9, 424, 'S', navy, 'center', 7.5)

red = '#ee1111'
brown = '#b22222'
tx(6, 14, 'Czas lokalny')
tx(6, 26, '(CET/CEST)')
ln([66, 132, 155], [16, 16, 46])
tx(6, 42, 'Temperatura gruntu', brown)
tx(47, 52, 'max/min', brown, 'center')
ln([102, 120, 157], [43, 43, 100], brown)
tx(6, 64, 'Temperatura:')
tx(13, 76, 'punkt środkowy', red)
ln([92, 117], [76, 76], red)
ln([130, 137, 160], [76, 78, 100], red)
tx(47, 86, 'max/min', '#ffd8c8', 'center')
tx(10, 98, 'odczuwana', '#0000ee')
ln([70, 117], [99, 99], '#0000ee')
ln([130, 135], [99, 99], '#0000ee')
tx(47, 108, 'max/min', '#a8e0ff', 'center')
tx(6, 120, 'Temp. punktu rosy', '#6a5acd')
ln([95, 115, 135], [120, 120, 115], '#6a5acd')
tx(6, 137, 'Opad powyżej skali', red)
ln([103, 140, 146], [137, 137, 146], red)
tx(6, 151, 'Wilgotność względna', '#e8501a')
ln([106, 111], [151, 151], '#e8501a')
ln([130, 145], [151, 162], '#e8501a')
tx(6, 165, 'Wystąpienie burzy')
ln([103, 113], [166, 166])
ln([130, 137], [165, 173])
tx(6, 179, 'Deszcz: max', '#00a000')
ln([71, 138], [179, 179], '#00a000')
tx(49, 190, 'średni', '#00a000')
ln([80, 135], [190, 190], '#00a000')
tx(6, 201, 'Śnieg:', '#1030c8')
tx(49, 201, 'max', '#1030c8')
ln([70, 112], [202, 202], '#1030c8')
ln([128, 160], [203, 172], '#1030c8')
tx(49, 212, 'średni', '#1030c8')
ln([80, 130, 160], [212, 212, 180], '#1030c8')
tx(6, 224, 'Wystąpienie opadu', red)
ln([97, 140, 146], [224, 224, 219], red)
tx(6, 237, 'konwekcyjnego', red)
tx(5, 263, 'Ciśnienie')
ln([52, 135], [264, 264])
tx(5, 276, 'zredukowane')
tx(5, 289, 'do poziomu morza')
tx(5, 318, 'Wiatr na')
tx(48, 318, '10m:', family='Liberation Serif')
tx(10, 334, 'poryw powyżej skali', red)
ln([110, 114], [334, 334], red)
ln([130, 137], [334, 318], red)
tx(10, 348, 'max porywy wiatru', red)
ln([108, 130, 145], [348, 348, 340], red)
tx(10, 368, 'prędkość wiatru', navy)
ln([92, 135], [367, 367], navy)
tx(10, 381, 'w środku obszaru', navy)
tx(10, 409, 'kierunek wiatru', navy)
ln([86, 138], [410, 410], navy)
tx(6, 429, 'Wierzchołek chmur', brown)
ln([100, 185], [430, 447], '#a52020')
tx(6, 444, 'Podstawa chmur*')
tx(6, 456, 'o pokryciu')
tx(11, 468, '> 7.9 okt.')
ln([58, 133, 190], [468, 468, 457])
tx(11, 479, '> 6.5 okt.', '#555555')
ln([58, 143], [481, 481], '#555555')
tx(11, 491, '> 4.5 okt.', '#999999')
ln([55, 130, 137], [491, 491, 500], '#999999')
tx(11, 501, '> 2.5 okt.', '#dddddd')
ln([55, 130, 137], [500, 500, 505], '#dddddd')
ov.fill_between([11, 55], 505, 517, color='#87cefa', lw=0)
tx(11, 511, '> 0.1 okt.', 'white')
ln([55, 135], [509, 509], '#87cefa')
ln([55, 135], [512, 512], '#87cefa')
tx(6, 526, 'Widzialność', orange)
ln([67, 130, 172], [527, 527, 465], orange)
tx(6, 543, 'Chmury:')
ov.fill_between([10, 51], 551, 563, color='#87cefa', lw=0)
tx(10, 556, 'wysokie', 'white')
ln([53, 187], [555, 555], '#87cefa')
ln([53, 187], [558, 558], '#87cefa')
tx(10, 569, 'średnie', '#999999')
ln([50, 192], [571, 571], '#999999')
tx(10, 581, 'niskie')
ln([38, 122], [582, 582])
ln([130, 140], [582, 582])
tx(10, 594, 'bardzo niskie')
ln([74, 137], [594, 594])
tx(6, 605, 'Mgła', '#ffc000')
ln([27, 215, 219], [605, 605, 600], '#ffc000')
tx(6, 622, 'Czas uniwersalny (UTC)')
ln([139, 147, 157], [624, 624, 608])

fig.savefig('out.png', dpi=100)
